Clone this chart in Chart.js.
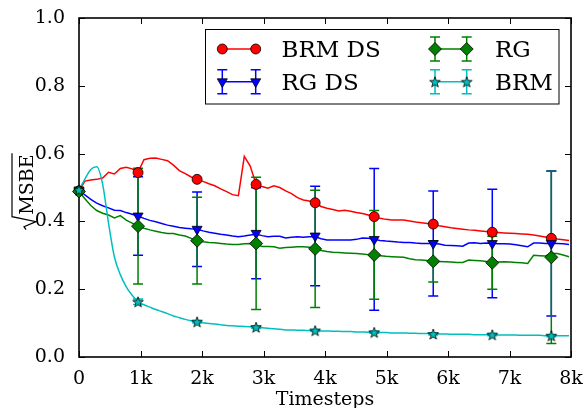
<!DOCTYPE html>
<html>
<head>
<meta charset="utf-8">
<script src="https://cdn.jsdelivr.net/npm/chart.js@4.4.1/dist/chart.umd.min.js"></script>
<style>
  html, body { margin: 0; padding: 0; background: #fff; }
  canvas { display: block; }
</style>
</head>
<body>
<canvas id="myChart" width="587" height="408"></canvas>
<script>
// ---- data ----
const timesteps = [0, 96, 192, 288, 384, 480, 576, 672, 768, 864,
  960, 1056, 1152, 1248, 1344, 1440, 1536, 1632, 1728, 1824,
  1920, 2016, 2112, 2208, 2304, 2400, 2496, 2592, 2688, 2784,
  2880, 2976, 3072, 3168, 3264, 3360, 3456, 3552, 3648, 3744,
  3840, 3936, 4032, 4128, 4224, 4320, 4416, 4512, 4608, 4704,
  4800, 4896, 4992, 5088, 5184, 5280, 5376, 5472, 5568, 5664,
  5760, 5856, 5952, 6048, 6144, 6240, 6336, 6432, 6528, 6624,
  6720, 6816, 6912, 7008, 7104, 7200, 7296, 7392, 7488, 7584,
  7680, 7776, 7872, 7968];

const brmDsLine = [0.490, 0.519, 0.522, 0.524, 0.528, 0.545, 0.540, 0.556, 0.560, 0.555,
  0.545, 0.582, 0.586, 0.587, 0.583, 0.579, 0.566, 0.550, 0.541, 0.531,
  0.524, 0.518, 0.511, 0.505, 0.496, 0.488, 0.479, 0.476, 0.592, 0.563,
  0.509, 0.503, 0.498, 0.505, 0.500, 0.490, 0.482, 0.470, 0.463, 0.460,
  0.455, 0.444, 0.439, 0.435, 0.431, 0.433, 0.430, 0.426, 0.423, 0.419,
  0.414, 0.409, 0.406, 0.404, 0.404, 0.404, 0.401, 0.398, 0.396, 0.394,
  0.392, 0.387, 0.384, 0.381, 0.379, 0.377, 0.375, 0.374, 0.372, 0.370,
  0.368, 0.367, 0.366, 0.365, 0.364, 0.363, 0.362, 0.360, 0.357, 0.354,
  0.351, 0.348, 0.346, 0.344];

const rgDsLine = [0.493, 0.478, 0.465, 0.454, 0.446, 0.440, 0.433, 0.432, 0.426, 0.421,
  0.416, 0.409, 0.403, 0.399, 0.394, 0.389, 0.386, 0.382, 0.380, 0.378,
  0.377, 0.372, 0.368, 0.365, 0.362, 0.360, 0.357, 0.355, 0.357, 0.360,
  0.362, 0.358, 0.355, 0.356, 0.356, 0.351, 0.353, 0.355, 0.353, 0.355,
  0.355, 0.349, 0.345, 0.345, 0.345, 0.345, 0.345, 0.347, 0.351, 0.350,
  0.347, 0.344, 0.342, 0.341, 0.339, 0.338, 0.338, 0.336, 0.335, 0.335,
  0.335, 0.333, 0.330, 0.329, 0.328, 0.327, 0.336, 0.337, 0.335, 0.336,
  0.335, 0.334, 0.334, 0.333, 0.331, 0.328, 0.325, 0.336, 0.336, 0.335,
  0.335, 0.335, 0.334, 0.332];

const rgLine = [0.488, 0.467, 0.447, 0.432, 0.424, 0.419, 0.410, 0.417, 0.404, 0.395,
  0.386, 0.380, 0.375, 0.371, 0.367, 0.364, 0.364, 0.360, 0.357, 0.350,
  0.343, 0.340, 0.338, 0.337, 0.335, 0.333, 0.332, 0.332, 0.334, 0.335,
  0.333, 0.326, 0.326, 0.325, 0.321, 0.323, 0.324, 0.325, 0.325, 0.324,
  0.319, 0.314, 0.311, 0.309, 0.308, 0.307, 0.306, 0.305, 0.304, 0.302,
  0.301, 0.299, 0.297, 0.296, 0.295, 0.294, 0.290, 0.287, 0.286, 0.285,
  0.283, 0.282, 0.281, 0.280, 0.279, 0.279, 0.286, 0.285, 0.284, 0.282,
  0.279, 0.280, 0.281, 0.280, 0.279, 0.278, 0.276, 0.300, 0.299, 0.298,
  0.305, 0.305, 0.301, 0.296];

const brmLine = [0.493, 0.525, 0.553, 0.561, 0.510, 0.395, 0.295, 0.243, 0.207, 0.182,
  0.163, 0.154, 0.147, 0.140, 0.134, 0.128, 0.121, 0.116, 0.111, 0.107,
  0.104, 0.101, 0.099, 0.097, 0.095, 0.093, 0.092, 0.091, 0.090, 0.089,
  0.088, 0.086, 0.085, 0.083, 0.082, 0.080, 0.080, 0.079, 0.079, 0.078,
  0.078, 0.077, 0.077, 0.076, 0.076, 0.075, 0.075, 0.074, 0.074, 0.073,
  0.073, 0.072, 0.072, 0.071, 0.071, 0.071, 0.070, 0.070, 0.069, 0.069,
  0.068, 0.068, 0.068, 0.067, 0.067, 0.067, 0.067, 0.066, 0.066, 0.066,
  0.066, 0.065, 0.065, 0.065, 0.065, 0.064, 0.064, 0.064, 0.064, 0.063,
  0.063, 0.063, 0.063, 0.063];

// markers with error bars
const markerSteps = [0, 960, 1920, 2880, 3840, 4800, 5760, 6720, 7680];
const brmDsMarks = [0.490, 0.544, 0.524, 0.509, 0.455, 0.414, 0.392, 0.368, 0.350];
const rgDsMarks  = [0.493, 0.416, 0.377, 0.365, 0.357, 0.347, 0.335, 0.335, 0.335];
const rgDsErr    = [0, 0.116, 0.110, 0.134, 0.147, 0.209, 0.155, 0.160, 0.214];
const rgMarks    = [0.488, 0.386, 0.343, 0.335, 0.319, 0.301, 0.282, 0.278, 0.294];
const rgErr      = [0, 0.171, 0.128, 0.195, 0.173, 0.131, 0.061, 0.078, 0.254];
const brmMarks   = [0.493, 0.163, 0.104, 0.088, 0.078, 0.073, 0.068, 0.066, 0.063];
const brmErr     = [0, 0.008, 0.004, 0.004, 0.003, 0.003, 0.003, 0.003, 0.003];

const seriesNames = ['BRM DS', 'RG DS', 'RG', 'BRM'];
const xTickLabels = ['0', '1k', '2k', '3k', '4k', '5k', '6k', '7k', '8k'];
const yTickLabels = ['0.0', '0.2', '0.4', '0.6', '0.8', '1.0'];

// ---- styles ----
const RED = '#ff0000', BLUE = '#0000ff', GREEN = '#008000', CYAN = '#00bfbf';
const FONT = 'DejaVu Serif';

function makeStar(color) {
  const c = document.createElement('canvas');
  c.width = 14; c.height = 14;
  const g = c.getContext('2d');
  g.beginPath();
  for (let k = 0; k < 10; k++) {
    const r = k % 2 === 0 ? 5.6 : 2.3;
    const a = -Math.PI / 2 + k * Math.PI / 5;
    const px = 7 + r * Math.cos(a), py = 7.6 + r * Math.sin(a);
    if (k) g.lineTo(px, py); else g.moveTo(px, py);
  }
  g.closePath();
  g.fillStyle = color; g.fill();
  g.lineWidth = 0.8; g.strokeStyle = '#000'; g.stroke();
  return c;
}
const starImg = makeStar(CYAN);

function toPoints(xs, ys) {
  return xs.map((x, i) => ({ x: x, y: ys[i] }));
}

const lineStyle = { borderWidth: 1.5, pointRadius: 0, fill: false, tension: 0 };
const markStyle = { showLine: false, pointBorderColor: '#000', pointBorderWidth: 0.8, clip: false };

const marker = [
  { style: 'circle', radius: 5, rotation: 0, color: RED },
  { style: 'triangle', radius: 5.8, rotation: 180, color: BLUE },
  { style: 'rectRot', radius: 6.5, rotation: 0, color: GREEN },
  { style: starImg, radius: 5, rotation: 0, color: CYAN }
];

// ---- plugins ----
const errorBars = {
  id: 'errorBars',
  beforeDatasetDraw(chart, args) {
    const first = chart.data.datasets[args.index];
    if (!first.barsBefore) return;
    const xs = chart.scales.x, ys = chart.scales.y, ctx = chart.ctx;
    ctx.save();
    ctx.lineWidth = 1.5;
    chart.data.datasets.forEach(ds => {
      if (!ds.errors) return;
      ctx.strokeStyle = ds.pointBackgroundColor;
      ds.data.forEach((p, k) => {
        const e = ds.errors[k];
        if (!e) return;
        const px = xs.getPixelForValue(p.x);
        const top = ys.getPixelForValue(p.y + e), bot = ys.getPixelForValue(p.y - e);
        ctx.beginPath();
        ctx.moveTo(px, top); ctx.lineTo(px, bot);
        ctx.moveTo(px - 5, top); ctx.lineTo(px + 5, top);
        ctx.moveTo(px - 5, bot); ctx.lineTo(px + 5, bot);
        ctx.stroke();
      });
    });
    ctx.restore();
  }
};

const frame = {
  id: 'frame',
  beforeDatasetsDraw(chart) {
    const { ctx, chartArea: a, scales: { x, y } } = chart;
    ctx.save();
    ctx.strokeStyle = '#000';
    ctx.lineWidth = 1;
    ctx.beginPath();
    x.ticks.forEach(t => {
      const px = Math.round(x.getPixelForValue(t.value)) + 0.5;
      ctx.moveTo(px, a.bottom); ctx.lineTo(px, a.bottom - 6);
      ctx.moveTo(px, a.top); ctx.lineTo(px, a.top + 6);
    });
    y.ticks.forEach(t => {
      const py = Math.round(y.getPixelForValue(t.value)) + 0.5;
      ctx.moveTo(a.left, py); ctx.lineTo(a.left + 6, py);
      ctx.moveTo(a.right, py); ctx.lineTo(a.right - 6, py);
    });
    ctx.stroke();
    ctx.lineWidth = 1.6;
    ctx.strokeRect(a.left, a.top, a.right - a.left, a.bottom - a.top);
    ctx.restore();
  },
  afterDraw(chart) {
    const { ctx, chartArea: a } = chart;
    ctx.save();
    ctx.fillStyle = '#000';
    ctx.strokeStyle = '#000';
    // x title
    ctx.font = '19px ' + FONT;
    ctx.textAlign = 'center';
    ctx.textBaseline = 'alphabetic';
    ctx.fillText('Timesteps', (a.left + a.right) / 2, 405);
    // y title: sqrt(MSBE)
    ctx.translate(33, 192);
    ctx.rotate(-Math.PI / 2);
    ctx.textAlign = 'left';
    const wt = ctx.measureText('MSBE').width;
    const u0 = -(15 + wt) / 2;
    ctx.fillText('MSBE', u0 + 15, 0);
    ctx.lineWidth = 1.2;
    ctx.beginPath();
    ctx.moveTo(u0, -7); ctx.lineTo(u0 + 3, -9); ctx.lineTo(u0 + 8, 3);
    ctx.lineTo(u0 + 13, -21); ctx.lineTo(u0 + 15 + wt + 1, -21);
    ctx.stroke();
    ctx.restore();
  }
};

function drawMark(ctx, m, x, y) {
  ctx.save();
  ctx.fillStyle = m.color;
  ctx.strokeStyle = '#000';
  ctx.lineWidth = 0.8;
  Chart.helpers.drawPoint(ctx, { pointStyle: m.style, radius: m.radius, rotation: m.rotation, borderWidth: 0.8 }, x, y);
  ctx.restore();
}

const boxLegend = {
  id: 'boxLegend',
  afterDraw(chart) {
    const ctx = chart.ctx;
    ctx.save();
    ctx.fillStyle = '#fff';
    ctx.fillRect(205.5, 29.5, 353.5, 74.5);
    ctx.strokeStyle = '#000';
    ctx.lineWidth = 1;
    ctx.strokeRect(205.5, 29.5, 353.5, 74.5);
    const cols = [{ x0: 222.3, x1: 255.7, tx: 281.5 }, { x0: 435, x1: 466.7, tx: 495 }];
    const rows = [{ y: 49, base: 56.5 }, { y: 81.7, base: 89.5 }];
    const hasErr = [false, true, true, true];
    seriesNames.forEach((name, i) => {
      const c = cols[Math.floor(i / 2)], r = rows[i % 2], m = marker[i];
      ctx.strokeStyle = m.color;
      ctx.lineWidth = 1.5;
      ctx.beginPath();
      ctx.moveTo(c.x0, r.y); ctx.lineTo(c.x1, r.y);
      if (hasErr[i]) {
        [c.x0, c.x1].forEach(px => {
          ctx.moveTo(px, r.y - 12); ctx.lineTo(px, r.y + 12);
          ctx.moveTo(px - 5, r.y - 12); ctx.lineTo(px + 5, r.y - 12);
          ctx.moveTo(px - 5, r.y + 12); ctx.lineTo(px + 5, r.y + 12);
        });
      }
      ctx.stroke();
      drawMark(ctx, m, c.x0, r.y);
      drawMark(ctx, m, c.x1, r.y);
      ctx.fillStyle = '#000';
      ctx.font = '23px ' + FONT;
      ctx.textBaseline = 'alphabetic';
      ctx.fillText(name, c.tx, r.base);
    });
    ctx.restore();
  }
};

// ---- chart ----
const lineColors = [RED, BLUE, GREEN, CYAN];
const lineValues = [brmDsLine, rgDsLine, rgLine, brmLine];
const markValues = [brmDsMarks, rgDsMarks, rgMarks, brmMarks];
const markErrors = [null, rgDsErr, rgErr, brmErr];

const datasets = [];
seriesNames.forEach((name, i) => {
  datasets.push(Object.assign({}, lineStyle, {
    label: name,
    data: toPoints(timesteps, lineValues[i]),
    borderColor: lineColors[i],
    cubicInterpolationMode: i === 3 ? 'monotone' : 'default',
    order: 9 - i
  }));
});
seriesNames.forEach((name, i) => {
  datasets.push(Object.assign({}, markStyle, {
    label: name,
    data: toPoints(markerSteps, markValues[i]),
    pointStyle: marker[i].style,
    pointRadius: marker[i].radius,
    pointRotation: marker[i].rotation,
    pointBackgroundColor: marker[i].color,
    errors: markErrors[i],
    barsBefore: i === 0,
    order: 4 - i
  }));
});

const ctx = document.getElementById('myChart');

new Chart(ctx, {
  type: 'line',
  data: { datasets: datasets },
  plugins: [frame, errorBars, boxLegend],
  options: {
    responsive: false,
    animation: false,
    devicePixelRatio: 1,
    events: [],
    layout: { padding: { left: 0, top: 18, right: 16, bottom: 0 } },
    plugins: {
      legend: { display: false },
      tooltip: { enabled: false }
    },
    scales: {
      x: {
        type: 'linear',
        min: 0,
        max: 8000,
        grid: { display: false },
        border: { display: false },
        afterFit(s) { s.height = 51; },
        ticks: {
          stepSize: 1000,
          autoSkip: false,
          maxRotation: 0,
          padding: 3,
          color: '#000',
          font: { family: FONT, size: 19 },
          callback: (v, i) => xTickLabels[i]
        }
      },
      y: {
        min: 0,
        max: 1,
        grid: { display: false },
        border: { display: false },
        afterFit(s) { s.width = 79; },
        ticks: {
          stepSize: 0.2,
          padding: 6,
          color: '#000',
          font: { family: FONT, size: 19 },
          callback: (v, i) => yTickLabels[i]
        }
      }
    }
  }
});
</script>
</body>
</html>
